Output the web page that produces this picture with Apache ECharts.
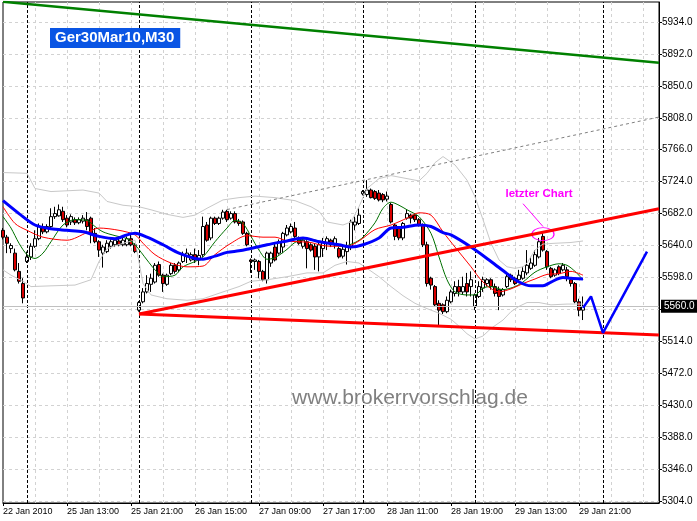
<!DOCTYPE html>
<html><head><meta charset="utf-8">
<script src="https://cdn.jsdelivr.net/npm/echarts@6/dist/echarts.min.js"></script>
<style>html,body{margin:0;padding:0;background:#fff}#c{width:697px;height:521px}</style>
</head><body><div id="c"></div>
<script>
// OHLC candles, each [open, close, low, high], 30-minute bars from 22 Jan 2010 19:00
const candles = [
[5660,5651,5648,5663],[5651,5643,5630,5654],[5636,5640,5630,5643],[5630,5608,5606,5636],[5606,5593,5590,5617],
[5590,5571,5564,5597],[5619,5625,5617,5632],[5625,5639,5621,5643],[5639,5649,5637,5660],[5649,5665,5647,5669],
[5665,5658,5655,5669],[5658,5665,5656,5668],[5665,5678,5663,5689],[5678,5682,5675,5691],[5679,5687,5678,5694],
[5685,5674,5671,5691],[5676,5667,5664,5680],[5671,5678,5667,5681],[5674,5670,5667,5677],[5670,5674,5668,5677],
[5672,5676,5669,5680],[5674,5665,5660,5684],[5676,5656,5643,5678],[5656,5645,5643,5663],[5645,5634,5625,5647],
[5630,5638,5611,5641],[5632,5643,5630,5647],[5639,5645,5636,5648],[5641,5647,5638,5650],[5646,5641,5639,5649],
[5641,5647,5639,5650],[5641,5649,5639,5652],[5649,5641,5639,5654],[5641,5632,5630,5643],[5555,5565,5553,5567],
[5566,5579,5564,5584],[5579,5590,5577,5601],[5589,5597,5579,5603],[5592,5614,5590,5617],[5615,5601,5599,5619],
[5601,5590,5579,5603],[5589,5601,5587,5603],[5603,5614,5601,5617],[5614,5606,5603,5617],[5608,5617,5605,5619],
[5619,5628,5617,5632],[5626,5630,5617,5636],[5621,5628,5619,5631],[5628,5621,5617,5636],[5621,5627,5614,5634],
[5628,5665,5625,5678],[5667,5647,5645,5671],[5650,5676,5647,5678],[5676,5669,5667,5678],[5669,5676,5667,5678],
[5676,5684,5674,5687],[5685,5674,5671,5687],[5676,5682,5674,5685],[5682,5671,5669,5685],[5672,5669,5666,5675],
[5671,5656,5654,5673],[5656,5641,5639,5658],[5621,5619,5604,5623],[5619,5621,5608,5623],[5619,5606,5597,5621],
[5606,5595,5593,5608],[5595,5630,5590,5632],[5617,5630,5612,5632],[5638,5621,5619,5643],[5630,5645,5628,5648],
[5638,5656,5630,5658],[5654,5663,5652,5667],[5658,5665,5656,5669],[5663,5652,5650,5671],[5650,5643,5641,5652],
[5639,5647,5636,5650],[5645,5636,5610,5647],[5641,5634,5632,5643],[5639,5625,5608,5643],[5625,5641,5606,5645],
[5636,5645,5625,5650],[5643,5649,5634,5652],[5647,5641,5638,5649],[5641,5649,5636,5652],[5636,5625,5623,5638],
[5626,5635,5623,5638],[5632,5638,5615,5645],[5638,5671,5634,5674],[5667,5671,5660,5678],[5669,5680,5667,5689],
[5708,5711,5706,5713],[5707,5713,5704,5726],[5713,5703,5702,5715],[5711,5702,5700,5713],[5709,5700,5698,5713],
[5707,5700,5697,5709],[5701,5705,5698,5711],[5694,5671,5669,5696],[5667,5652,5647,5669],[5663,5650,5647,5665],
[5650,5669,5647,5671],[5676,5682,5674,5687],[5680,5676,5669,5682],[5680,5674,5671,5682],[5674,5667,5665,5676],
[5667,5641,5638,5669],[5641,5590,5586,5645],[5597,5588,5582,5599],[5586,5562,5560,5588],[5564,5555,5534,5568],
[5562,5553,5550,5564],[5553,5568,5551,5573],[5566,5579,5564,5582],[5577,5586,5573,5593],[5586,5579,5573,5595],
[5579,5586,5575,5599],[5590,5579,5573,5604],[5586,5595,5573,5606],[5560,5575,5555,5577],[5573,5586,5571,5593],
[5584,5595,5579,5599],[5590,5595,5586,5597],[5595,5586,5582,5597],[5586,5577,5573,5590],[5582,5573,5555,5586],
[5575,5582,5573,5584],[5586,5599,5584,5604],[5601,5595,5592,5603],[5597,5590,5588,5599],[5595,5601,5593,5608],
[5597,5606,5595,5612],[5604,5614,5601,5634],[5610,5617,5608,5625],[5614,5628,5612,5634],[5625,5645,5623,5650],
[5652,5634,5632,5657],[5632,5612,5608,5634],[5610,5599,5597,5612],[5601,5608,5599,5610],[5612,5603,5601,5614],
[5608,5614,5606,5617],[5608,5599,5593,5612],[5595,5590,5586,5597],[5590,5566,5564,5592],[5566,5555,5547,5570],
[5555,5560,5542,5573]
];
// indicator lines, sampled as [bar index, price]
const blueMA = [[0,5699],[4,5682],[8,5667],[12,5662],[16,5660],[20,5658],[24,5652],[28,5649],[31,5654],[33,5656],[36,5651],[40,5641],[44,5630],[48,5623],[50,5622],[53,5626],[56,5631],[59,5633],[61,5635],[66,5641],[71,5646],[75,5650],[79,5645],[84,5641],[87,5638],[90,5641],[94,5650],[97,5663],[100,5664],[104,5667],[107,5665],[110,5657],[112,5654],[117,5638],[122,5619],[126,5603],[129,5592],[132,5587],[135,5587],[137,5592],[140,5598],[142,5597],[145,5596]];
const redMA = [[0,5691],[3,5669],[6,5660],[10,5651],[16,5647],[21,5657],[24,5663],[29,5660],[33,5654],[35,5643],[38,5628],[42,5617],[46,5612],[50,5613],[53,5628],[57,5643],[61,5653],[65,5651],[68,5651],[71,5646],[74,5645],[77,5644],[79,5641],[82,5639],[86,5639],[89,5646],[93,5661],[97,5667],[101,5676],[104,5683],[107,5680],[110,5658],[113,5638],[117,5612],[120,5592],[124,5579],[127,5583],[130,5590],[133,5596],[136,5602],[139,5603],[142,5606],[145,5601]];
const greenMA = [[0,5678],[2,5663],[4,5643],[6,5628],[8,5623],[10,5630],[12,5645],[15,5667],[18,5674],[21,5673],[23,5665],[25,5658],[28,5653],[31,5649],[33,5641],[36,5621],[38,5608],[40,5599],[43,5601],[45,5612],[48,5619],[50,5625],[53,5645],[56,5663],[58,5673],[60,5669],[62,5652],[64,5634],[66,5622],[68,5624],[71,5635],[73,5644],[76,5649],[79,5646],[82,5642],[85,5639],[88,5644],[90,5651],[93,5670],[95,5689],[97,5697],[99,5693],[101,5687],[104,5678],[107,5656],[109,5625],[111,5595],[113,5579],[116,5575],[118,5575],[120,5584],[122,5586],[125,5582],[128,5586],[130,5592],[133,5605],[136,5612],[139,5616],[141,5614],[143,5606],[145,5595]];
const bbUpper = [[0,5736],[6,5735],[8,5715],[12,5711],[20,5713],[24,5709],[26,5698],[30,5693],[34,5691],[37,5687],[41,5681],[45,5677],[48,5680],[51,5689],[55,5700],[59,5703],[63,5705],[68,5703],[73,5699],[77,5691],[79,5685],[81,5671],[85,5667],[87,5671],[89,5691],[91,5715],[94,5728],[97,5732],[101,5728],[104,5725],[106,5735],[108,5749],[110,5757],[113,5746],[116,5726],[118,5704],[120,5674],[122,5643],[124,5621],[126,5612],[128,5610],[130,5612],[131,5617],[133,5634],[135,5642],[138,5643],[142,5644],[145,5646]];
const bbLower = [[0,5608],[2,5601],[5,5593],[7,5586],[12,5587],[18,5588],[22,5595],[24,5619],[26,5636],[30,5643],[33,5647],[35,5590],[37,5575],[41,5570],[46,5568],[50,5570],[55,5579],[59,5586],[62,5593],[66,5595],[71,5599],[76,5604],[80,5604],[83,5614],[86,5619],[89,5617],[91,5610],[94,5599],[97,5586],[100,5574],[103,5564],[106,5557],[109,5551],[112,5543],[114,5534],[116,5524],[118,5517],[120,5521],[122,5531],[125,5542],[127,5553],[129,5560],[131,5565],[134,5565],[137,5562],[141,5563],[145,5563]];
// drawn objects: [bar index, price] end points
const greenTrend = [[0,5960.7],[164,5880.5]];
const grayChannel = [[56,5687.3],[164,5809]];
const redUp = [[34,5550],[164,5688.5]];
const redDown = [[34,5550],[164,5522.3]];
const blueProjection = [[145,5558],[147,5573],[150,5525],[161,5632]];
const daySeparators = [6,34,62,90,118,150];
const lastPrice = 5560;
const noteText = 'letzter Chart';
const notePoint = [134, 5708];
const noteCircle = [135, 5655];
const noteLine = [[130,5695],[135,5665]];
// axes
const yTicks = [5304,5346,5388,5430,5472,5514,5556,5598,5640,5682,5724,5766,5808,5850,5892,5934];
const xTickIdx = [0,16,32,48,64,80,96,112,128,144];
const xTickLabels = ['22 Jan 2010','25 Jan 13:00','25 Jan 21:00','26 Jan 15:00','27 Jan 09:00','27 Jan 17:00','28 Jan 11:00','28 Jan 19:00','29 Jan 13:00','29 Jan 21:00'];
const slotCount = 165;

const categories = Array.from({length: slotCount}, (_, i) => String(i));
const labelMap = {};
xTickIdx.forEach((k, j) => { labelMap[k] = xTickLabels[j]; });
const FONT = '"Liberation Sans", Arial, sans-serif';
const gridGray = '#d2d2d2';

function lineSeries(data, color, width, extra) {
  return Object.assign({
    type: 'line', data: data, symbol: 'none', showSymbol: false, silent: true,
    lineStyle: {color: color, width: width}, z: 5
  }, extra || {});
}

const chart = echarts.init(document.getElementById('c'), null, {renderer: 'canvas'});
chart.setOption({
  animation: false,
  backgroundColor: '#ffffff',
  grid: {left: 3, right: 38, top: 2, bottom: 18, show: true, borderColor: '#000', borderWidth: 1, backgroundColor: 'transparent', outerBoundsMode: 'none', containLabel: false},
  xAxis: {
    type: 'category', data: categories, boundaryGap: false,
    axisLine: {show: true, lineStyle: {color: '#000', width: 1}},
    axisTick: {show: true, interval: (i) => labelMap[i] !== undefined, length: 3, lineStyle: {color: '#000'}},
    axisLabel: {show: true, interval: (i) => labelMap[i] !== undefined, formatter: (v, i) => labelMap[i] || '',
      align: 'left', fontSize: 9, fontFamily: FONT, color: '#000', margin: 4},
    splitLine: {show: true, interval: (i) => i > 0 && i % 8 === 0, lineStyle: {color: gridGray, type: [3, 3], width: 1}}
  },
  yAxis: {
    type: 'value', position: 'right', min: 5301.37, max: 5960.3, scale: true,
    axisLine: {show: true, lineStyle: {color: '#000', width: 1}},
    axisTick: {show: true, customValues: yTicks, length: 3, lineStyle: {color: '#000'}},
    axisLabel: {show: true, customValues: yTicks, formatter: (v) => Number(v).toFixed(1), fontSize: 10, fontFamily: FONT, color: '#000', margin: 3},
    splitLine: {show: true, lineStyle: {color: gridGray, type: [3, 3], width: 1}}
  },
  series: [
    {
      type: 'line', data: [], silent: true, z: 1,
      markLine: {silent: true, symbol: ['none', 'none'], label: {show: false},
        lineStyle: {color: '#000', type: [3, 2], width: 1},
        data: daySeparators.map(i => ({xAxis: i}))}
    },
    {
      type: 'candlestick', data: candles, barWidth: 3, silent: true, z: 3,
      itemStyle: {color: '#ffffff', color0: '#d80000', borderColor: '#000000', borderColor0: '#000000', borderWidth: 1},
      markLine: {silent: true, symbol: ['none', 'none'],
        lineStyle: {color: '#c0c0c0', type: 'solid', width: 1},
        label: {show: true, position: 'end', formatter: lastPrice.toFixed(1), backgroundColor: '#000', color: '#fff',
          fontSize: 10, fontFamily: FONT, padding: [2, 3, 1, 3], distance: 2},
        data: [{yAxis: lastPrice}]}
    },
    lineSeries(bbUpper, '#c8c8c8', 1),
    lineSeries(bbLower, '#c8c8c8', 1),
    lineSeries(greenMA, '#007000', 1, {smooth: 0.3}),
    lineSeries(redMA, '#ff0000', 1, {smooth: 0.3}),
    lineSeries(blueMA, '#0000ff', 3, {smooth: 0.3}),
    lineSeries(greenTrend, '#008000', 2.5, {z: 6}),
    lineSeries(grayChannel, '#808080', 1, {z: 6, lineStyle: {color: '#808080', width: 1, type: [3, 3]}}),
    lineSeries(redUp, '#ff0000', 3, {z: 6}),
    lineSeries(redDown, '#ff0000', 3, {z: 6}),
    lineSeries(blueProjection, '#0000ff', 2.5, {z: 6}),
    {
      type: 'line', data: [], silent: true, z: 7,
      markPoint: {silent: true, data: [
        {coord: notePoint, symbol: 'rect', symbolSize: 1, itemStyle: {color: 'rgba(0,0,0,0)'},
          label: {show: true, position: 'inside', formatter: noteText, color: '#ff00ff', fontWeight: 'bold', fontSize: 11.5, fontFamily: FONT}},
        {coord: noteCircle, symbol: 'circle', symbolSize: [22, 13], label: {show: false},
          itemStyle: {color: 'rgba(0,0,0,0)', borderColor: '#ff00ff', borderWidth: 1}}
      ]},
      markLine: {silent: true, symbol: ['none', 'none'], label: {show: false},
        lineStyle: {color: '#ff00ff', type: 'solid', width: 1},
        data: [[{coord: noteLine[0]}, {coord: noteLine[1]}]]}
    }
  ],
  graphic: [
    {type: 'text', left: 50, top: 28, z: 100, silent: true,
      style: {text: 'Ger30Mar10,M30', font: 'bold 15px ' + FONT, fill: '#ffffff', backgroundColor: '#0a55e4', padding: [2, 6, 2, 5], lineHeight: 16}},
    {type: 'text', x: 410, y: 398, z: 100, silent: true,
      style: {text: 'www.brokerrvorschlag.de', font: '21px ' + FONT, fill: '#808080', textAlign: 'center', textVerticalAlign: 'middle'}}
  ]
});
</script></body></html>
